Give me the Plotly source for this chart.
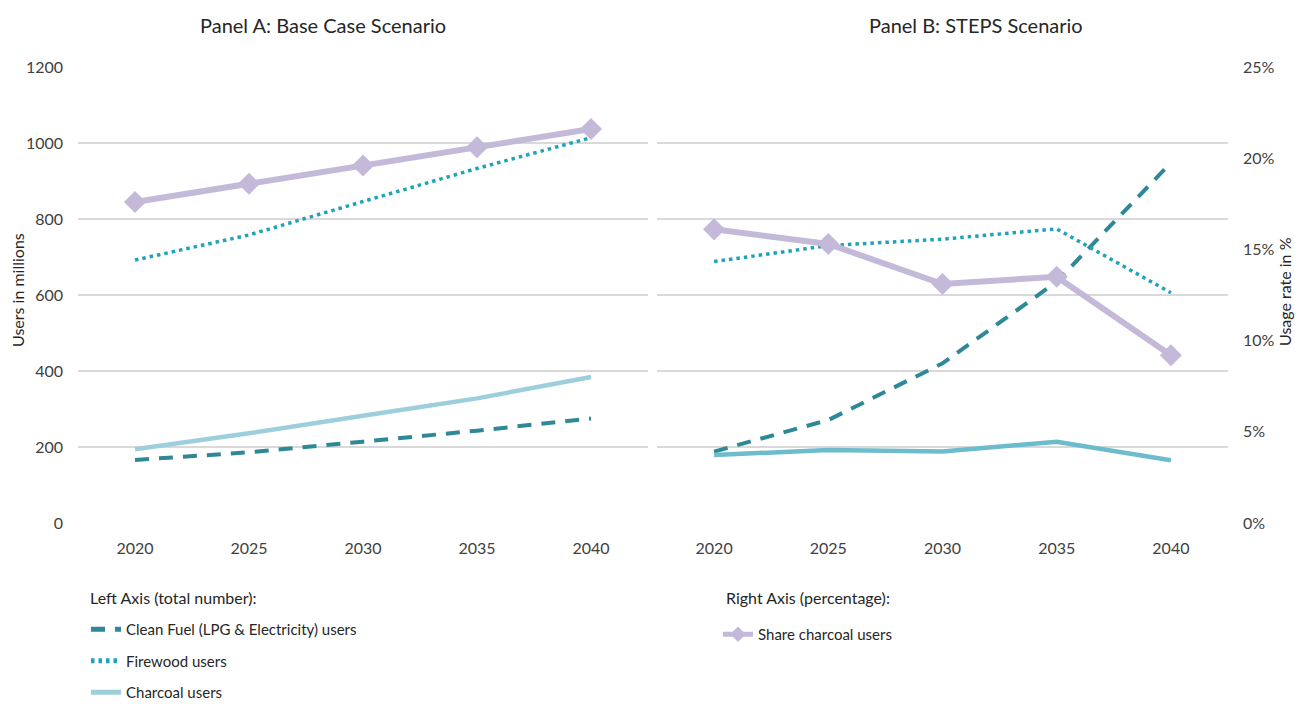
import plotly.graph_objects as go

# Years on the category axis
years = ["2020", "2025", "2030", "2035", "2040"]

# Panel A: Base Case Scenario (users in millions, share in %)
base_clean = [166, 186, 214, 243, 275]
base_firewood = [692, 758, 846, 933, 1014]
base_charcoal = [194, 236, 282, 328, 384]
base_share = [17.6, 18.6, 19.6, 20.6, 21.6]

# Panel B: STEPS Scenario
steps_clean = [188, 271, 420, 635, 948]
steps_firewood = [688, 730, 747, 774, 606]
steps_charcoal = [179, 192, 188, 214, 165]
steps_share = [16.1, 15.3, 13.1, 13.5, 9.2]

left_ticks = [0, 200, 400, 600, 800, 1000, 1200]
right_ticks = [0, 5, 10, 15, 20, 25]
right_labels = [f"{v}%" for v in right_ticks]

FONT = "Lato, 'Open Sans', sans-serif"
C_CLEAN = "#2f8896"
C_FIRE = "#1fa3ba"
C_CHAR_A = "#9ccfdb"
C_CHAR_B = "#6cbccd"
C_SHARE = "#c5b9d9"
GRID = "#d9d9d9"
TXT = "#262626"
TICK = "#404040"

W, H = 1295, 704
TOP, BOTTOM = 67, 181
PLOT_H = H - TOP - BOTTOM


def py(row):
    """Pixel row -> paper y coordinate."""
    return (H - BOTTOM - row) / PLOT_H


def px(col):
    """Pixel column -> paper x coordinate."""
    return col / W


fig = go.Figure()


def add_panel(xa, ya_left, ya_right, clean, fire, char, share, char_color, legend_on):
    fig.add_trace(go.Scatter(
        x=years, y=clean, xaxis=xa, yaxis=ya_left, mode="lines",
        name="Clean Fuel (LPG & Electricity) users",
        line=dict(color=C_CLEAN, width=4, dash="14px,10px"),
        showlegend=legend_on, legend="legend", legendgroup="clean"))
    fig.add_trace(go.Scatter(
        x=years, y=fire, xaxis=xa, yaxis=ya_left, mode="lines",
        name="Firewood users",
        line=dict(color=C_FIRE, width=3.5, dash="3.5px,4px"),
        showlegend=legend_on, legend="legend", legendgroup="fire"))
    fig.add_trace(go.Scatter(
        x=years, y=char, xaxis=xa, yaxis=ya_left, mode="lines",
        name="Charcoal users",
        line=dict(color=char_color, width=4.5),
        showlegend=legend_on, legend="legend", legendgroup="char"))
    fig.add_trace(go.Scatter(
        x=years, y=share, xaxis=xa, yaxis=ya_right, mode="lines+markers",
        name="Share charcoal users",
        line=dict(color=C_SHARE, width=6),
        marker=dict(symbol="diamond", size=17, color=C_SHARE),
        showlegend=legend_on, legend="legend2", legendgroup="share"))


add_panel("x", "y", "y2", base_clean, base_firewood, base_charcoal, base_share, C_CHAR_A, True)
add_panel("x2", "y3", "y4", steps_clean, steps_firewood, steps_charcoal, steps_share, C_CHAR_B, False)

xcommon = dict(type="category", range=[-0.5, 4.5], showgrid=False, zeroline=False,
               showline=False, ticks="", tickfont=dict(family=FONT, size=16, color=TICK),
               ticklabelstandoff=14)
ycommon = dict(range=[0, 1200], tickmode="array", tickvals=left_ticks, showgrid=True,
               gridcolor=GRID, gridwidth=2, zeroline=False, showline=False, ticks="")
rcommon = dict(range=[0, 25], showgrid=False, zeroline=False, showline=False, ticks="")

legend_common = dict(
    xanchor="left", yanchor="top", orientation="v", traceorder="grouped",
    tracegroupgap=9, font=dict(family=FONT, size=15, color=TXT),
    itemwidth=30, itemsizing="constant", bgcolor="rgba(0,0,0,0)")

fig.update_layout(
    width=W, height=H,
    margin=dict(l=0, r=0, t=TOP, b=BOTTOM, autoexpand=False),
    paper_bgcolor="white", plot_bgcolor="white",
    font=dict(family=FONT, color=TXT),
    xaxis=dict(domain=[px(78), px(648)], anchor="y", **xcommon),
    xaxis2=dict(domain=[px(657), px(1228)], anchor="y3", **xcommon),
    yaxis=dict(anchor="x", showticklabels=True,
               tickfont=dict(family=FONT, size=16, color=TICK),
               ticklabelstandoff=14, **ycommon),
    yaxis2=dict(anchor="x", overlaying="y", side="right", showticklabels=False, **rcommon),
    yaxis3=dict(anchor="x2", showticklabels=False, **ycommon),
    yaxis4=dict(anchor="x2", overlaying="y3", side="right", showticklabels=True,
                tickmode="array", tickvals=right_ticks, ticktext=right_labels,
                tickfont=dict(family=FONT, size=16, color=TICK),
                ticklabelstandoff=14, **rcommon),
    legend=dict(x=px(86), y=py(613), **legend_common),
    legend2=dict(x=px(718), y=py(618), **legend_common),
    annotations=[
        dict(text="Panel A: Base Case Scenario", x=px(323), y=py(25)),
        dict(text="Panel B: STEPS Scenario", x=px(976), y=py(25)),
        dict(text="Users in millions", x=px(17), y=py(290), textangle=-90,
             font=dict(family=FONT, size=16, color=TXT)),
        dict(text="Usage rate in %", x=px(1284), y=py(292), textangle=-90,
             font=dict(family=FONT, size=16, color=TXT)),
        dict(text="Left Axis (total number):", x=px(88), y=py(597), xanchor="left",
             font=dict(family=FONT, size=16, color=TXT)),
        dict(text="Right Axis (percentage):", x=px(724), y=py(597), xanchor="left",
             font=dict(family=FONT, size=16, color=TXT)),
    ],
)
fig.update_annotations(xref="paper", yref="paper", showarrow=False, yanchor="middle")
for ann in fig.layout.annotations:
    if ann.xanchor is None:
        ann.xanchor = "center"
    if ann.font.size is None:
        ann.font = dict(family=FONT, size=20, color=TXT)

fig.write_html("out.html")
